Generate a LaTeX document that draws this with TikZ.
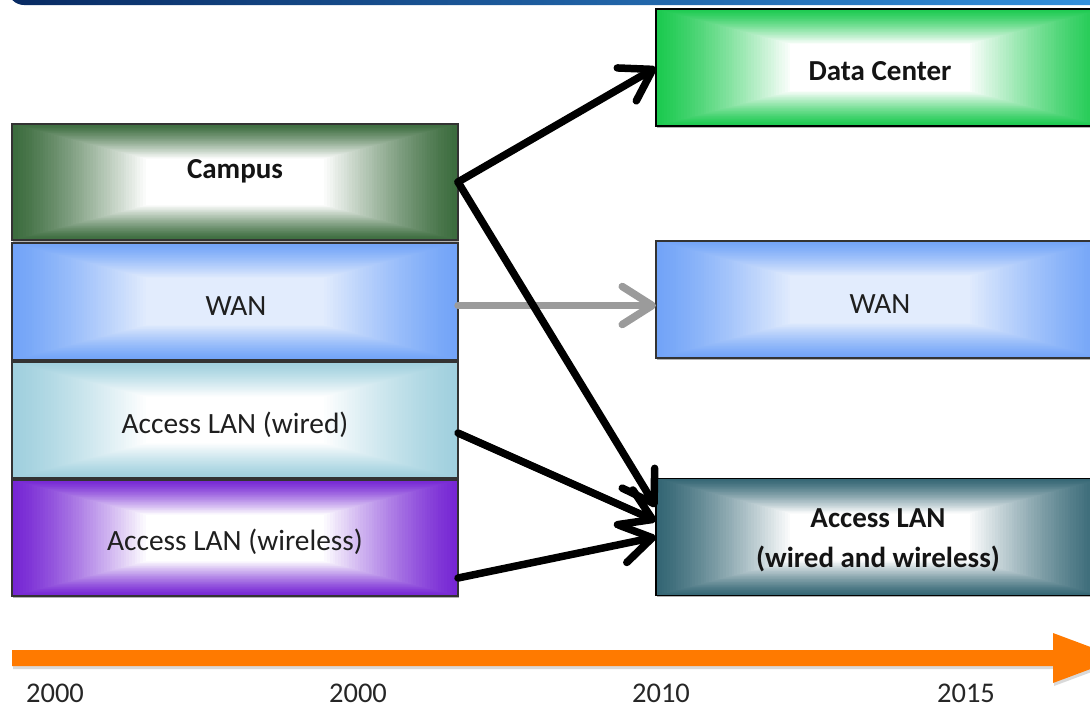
\documentclass[tikz,border=0pt]{standalone}
\usepackage{fontspec}
\setmainfont{Carlito}
\usetikzlibrary{arrows.meta,calc,shadows}

% palette
\definecolor{campusgreen}{RGB}{60,108,62}
\definecolor{wanblue}{RGB}{114,164,248}
\definecolor{wanpale}{RGB}{226,236,253}
\definecolor{wiredcyan}{RGB}{160,208,222}
\definecolor{wirelesspurple}{RGB}{118,38,212}
\definecolor{dcgreen}{RGB}{28,202,80}
\definecolor{accteal}{RGB}{52,102,116}
\definecolor{timeorange}{RGB}{255,122,0}
\definecolor{linkgray}{RGB}{155,155,155}
\definecolor{barnavy}{RGB}{8,42,98}
\definecolor{barblue}{RGB}{16,92,176}
\definecolor{barsky}{RGB}{52,146,222}

% rectangular "from centre" gradient: edge colour #1 fading to #2 in the middle
\newcommand\boxgradient[2]{%
  \foreach \gi in {0,...,47}{%
    \pgfmathsetmacro\gfrac{\gi*0.6/48}%
    \pgfmathsetmacro\gmix{100*(1-(\gi/48)^1.25)}%
    \fill[#1!\gmix!#2]
      ($(path picture bounding box.south west)!\gfrac!(path picture bounding box.center)$)
      rectangle
      ($(path picture bounding box.north east)!\gfrac!(path picture bounding box.center)$);
  }%
  \fill[#2]
    ($(path picture bounding box.south west)!0.6!(path picture bounding box.center)$)
    rectangle
    ($(path picture bounding box.north east)!0.6!(path picture bounding box.center)$);
}

\tikzset{
  gbox/.style n args={3}{rectangle, inner sep=0pt, outer sep=0pt,
    line width=1.2pt, draw=#3, path picture={\boxgradient{#1}{#2}},
    drop shadow={shadow xshift=1.2pt, shadow yshift=-1.8pt, opacity=0.3, fill=black}},
  leftbox/.style={minimum width=446pt, minimum height=116pt},
  rightbox/.style={minimum width=448pt, minimum height=117pt},
  boxlabel/.style={font=\fontsize{29.4}{34}\selectfont, text=black!88, anchor=base, inner sep=0pt},
  boldlabel/.style={font=\fontsize{29}{40}\selectfont\bfseries, text=black!92, anchor=base, inner sep=0pt},
  yearlabel/.style={font=\fontsize{28.5}{34}\selectfont, text=black!85, anchor=base, inner sep=0pt},
  link/.style={line width=7.5pt, line cap=round,
    -{Straight Barb[round, length=30pt, width=38pt]}},
}

\begin{document}
\begin{tikzpicture}[x=1pt, y=-1pt]
  \useasboundingbox (0,0) rectangle (1090,710);
  \clip (0,0) rectangle (1090,710);

  % title bar strip along the top edge
  \shade[left color=barnavy, middle color=barblue, right color=barsky, rounded corners=16pt]
    (8,-40) rectangle (1110,5);

  % timeline arrow
  \fill[black, opacity=0.15] (13,653) -- (1054,653) -- (1054,636) -- (1121,661)
    -- (1054,686) -- (1054,669) -- (13,669) -- cycle;
  \fill[timeorange] (12,650) -- (1053,650) -- (1053,633) -- (1120,658)
    -- (1053,683) -- (1053,666) -- (12,666) -- cycle;

  % earlier segments
  \node[gbox={campusgreen}{white}{black!80}, leftbox] (campus) at (235,182) {};
  \node[gbox={wanblue}{wanpale}{black!80}, leftbox, minimum height=117pt] (wanl) at (235,301.5) {};
  \node[gbox={wiredcyan}{white}{black!80}, leftbox] (wired) at (235,420) {};
  \node[gbox={wirelesspurple}{white}{black!80}, leftbox] (wireless) at (235,538) {};

  % later segments
  \node[gbox={dcgreen}{white}{black}, rightbox] (dc) at (880,67.5) {};
  \node[gbox={wanblue}{wanpale}{black!80}, rightbox] (wanr) at (880,299.5) {};
  \node[gbox={accteal}{white}{black}, rightbox] (accr) at (880,537) {};

  % labels
  \node[boldlabel] (campustext) at (235,178.5) {Campus};
  \node[boxlabel] (wanltext) at (236,315) {WAN};
  \node[boxlabel] (wiredtext) at (235,433) {Access LAN (wired)};
  \node[boxlabel] (wirelesstext) at (235,550) {Access LAN (wireless)};
  \node[boldlabel] (dctext) at (880,80) {Data Center};
  \node[boxlabel] (wanrtext) at (880,313) {WAN};
  \node[boldlabel, align=center] (accrtext) at (878,567) {Access LAN\\(wired and wireless)};

  % years
  \node[yearlabel] (y1) at (55,702) {2000};
  \node[yearlabel] (y2) at (358,702) {2000};
  \node[yearlabel] (y3) at (661,702) {2010};
  \node[yearlabel] (y4) at (966,702) {2015};

  % transitions
  \draw[link, draw=linkgray] ([yshift=-4pt]wanl.east) -- ([yshift=-6pt]wanr.west);
  \draw[link] (campus.east) -- (dc.west);
  \draw[link] (campus.east) -- ([yshift=30pt]accr.west);
  \draw[link] ([yshift=-13pt]wired.east) -- ([yshift=16pt]accr.west);
  \draw[link] ([yshift=-40pt]wireless.east) -- (accr.west);
\end{tikzpicture}
\end{document}
